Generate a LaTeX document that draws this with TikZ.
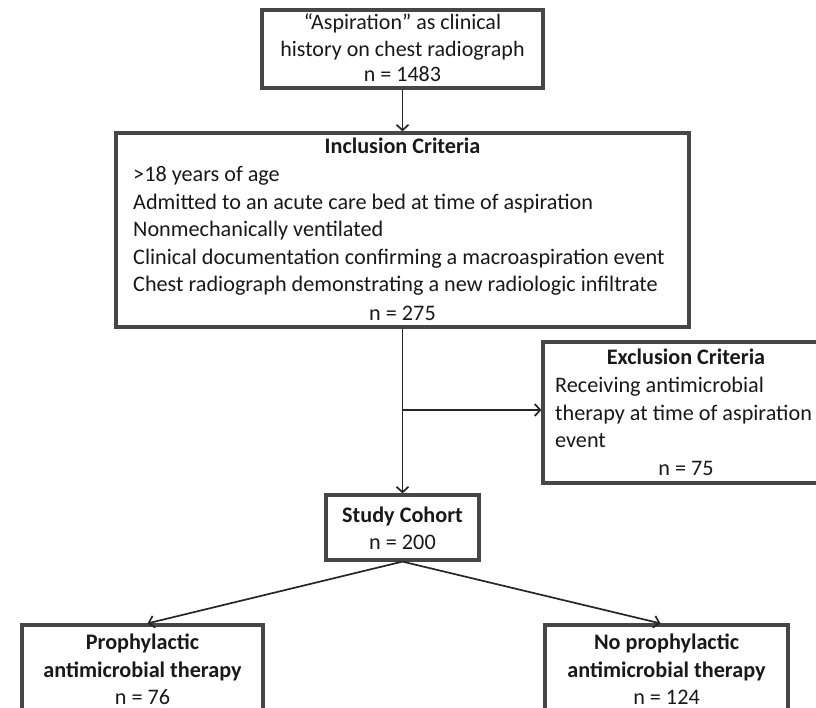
\documentclass[tikz,border=0pt]{standalone}
\usepackage{fontspec}
\setmainfont{Carlito}
\usetikzlibrary{arrows.meta}
\definecolor{boxgray}{RGB}{70,70,70}
\definecolor{txt}{RGB}{25,25,25}
\begin{document}
\begin{tikzpicture}[x=1pt,y=-1pt,
  box/.style={draw=boxgray,line width=3.2pt,rectangle,inner sep=0pt,fill=white},
  lbl/.style={anchor=base,font=\fontsize{22.2}{27}\selectfont,text=txt,inner sep=0pt},
  lbll/.style={lbl,anchor=base west},
  ttl/.style={lbl,font=\fontsize{22.2}{27}\selectfont\bfseries},
  arr/.style={draw=black!85,line width=1.7pt,-{Straight Barb[length=5.5pt,width=12pt]}}]
\clip (0,0) rectangle (816,708);
\fill[white] (0,0) rectangle (816,708);

% boxes
\node[box,minimum width=281pt,minimum height=78pt] (b1) at (402.5,49) {};
\node[box,minimum width=573pt,minimum height=194pt] (b2) at (402.5,230) {};
\node[box,minimum width=286pt,minimum height=141pt] (excl) at (686,412.5) {};
\node[box,minimum width=153pt,minimum height=65pt] (study) at (402.5,527.5) {};
\node[box,minimum width=241pt,minimum height=120pt] (proph) at (142.5,685) {};
\node[box,minimum width=243pt,minimum height=120pt] (noproph) at (666.5,685) {};

% box 1 text
\node[lbl,font=\fontsize{22}{26}\selectfont] (t1a) at (402.5,30) {“Aspiration” as clinical};
\node[lbl,font=\fontsize{22}{26}\selectfont] (t1b) at (402.5,57) {history on chest radiograph};
\node[lbl,font=\fontsize{22}{26}\selectfont] (t1c) at (402.5,82) {n = 1483};

% box 2 text
\node[ttl] (t2t) at (402.5,154) {Inclusion Criteria};
\node[lbll] (t2a) at (133,182) {>18 years of age};
\node[lbll] (t2b) at (133,209.5) {Admitted to an acute care bed at time of aspiration};
\node[lbll] (t2c) at (133,237) {Nonmechanically ventilated};
\node[lbll] (t2d) at (133,264.5) {Clinical documentation confirming a macroaspiration event};
\node[lbll] (t2e) at (133,292) {Chest radiograph demonstrating a new radiologic infiltrate};
\node[lbl] (t2n) at (402.5,320) {n = 275};

% exclusion text
\node[ttl] (tet) at (686,364) {Exclusion Criteria};
\node[lbll] (tea) at (555,392) {Receiving antimicrobial};
\node[lbll] (teb) at (555,420) {therapy at time of aspiration};
\node[lbll] (tec) at (555,447) {event};
\node[lbl] (ten) at (686,475) {n = 75};

% study cohort text
\node[ttl] (tst) at (402.5,522) {Study Cohort};
\node[lbl] (tsn) at (402.5,549) {n = 200};

% bottom boxes text
\node[ttl] (tpa) at (142.5,649) {Prophylactic};
\node[ttl] (tpb) at (142.5,677) {antimicrobial therapy};
\node[lbl] (tpn) at (142.5,704) {n = 76};
\node[ttl] (tna) at (666.5,649) {No prophylactic};
\node[ttl] (tnb) at (666.5,677) {antimicrobial therapy};
\node[lbl] (tnn) at (666.5,704) {n = 124};

% connectors
\coordinate (split) at (402.5,410);
\draw[arr] (b1.south) -- (b2.north);
\draw[arr] (b2.south) -- (study.north);
\draw[arr] (split) -- (split -| excl.west);
\draw[arr] (study.south) -- ([xshift=5pt]proph.north);
\draw[arr] (study.south) -- ([xshift=-6pt]noproph.north);
\end{tikzpicture}
\end{document}
